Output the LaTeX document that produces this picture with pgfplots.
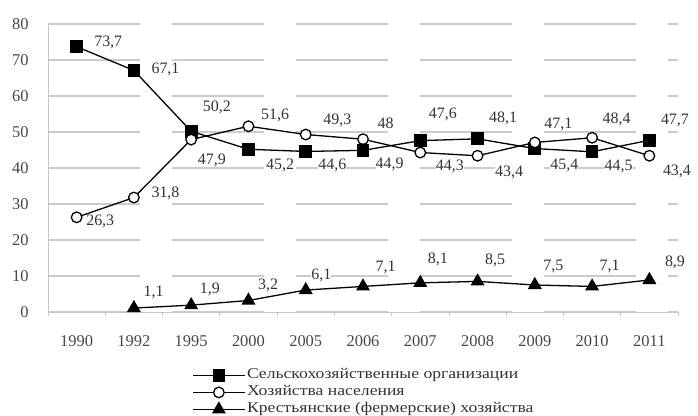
\documentclass[border=0pt]{standalone}
\usepackage{fontspec}
\setmainfont{Liberation Serif}
\newfontfamily\legfont{Liberation Serif}[FakeStretch=1.18]
\usepackage{pgfplots}
\usepackage{pgfplotstable}
\pgfplotsset{compat=1.18}

% x = index of the year, lab = printed value, lx/ly = label offset (bp)
\pgfplotstableread{
x y lab lx ly
0 73.7 73,7 17 4
1 67.1 67,1 17 1
2 50.2 50,2 11 24
3 45.2 45,2 17 -16
4 44.6 44,6 12 -14
5 44.9 44,9 12 -14
6 47.6 47,6 8 26
7 48.1 48,1 11 20
8 45.4 45,4 15 -17
9 44.5 44,5 12 -15
10 47.7 47,7 11 20
}\orgs

\pgfplotstableread{
x y lab lx ly
0 26.3 26,3 9 -4
1 31.8 31,8 17 4
2 47.9 47,9 6 -21
3 51.6 51,6 12 11
4 49.3 49,3 17 14
5 48 48 14 16
6 44.3 44,3 15 -14
7 43.4 43,4 17 -17
8 47.1 47,1 9 18
9 48.4 48,4 10 18
10 43.4 43,4 13 -16
}\hh

\pgfplotstableread{
x y lab lx ly
1 1.1 1,1 9 16
2 1.9 1,9 8 16
3 3.2 3,2 9 15
4 6.1 6,1 5 15
5 7.1 7,1 12 19
6 8.1 8,1 7 23
7 8.5 8,5 7 21
8 7.5 7,5 8 18
9 7.1 7,1 7 20
10 8.9 8,9 15 18
}\farm

\pgfplotsset{
  lbl/.style={
    nodes near coords, point meta=explicit symbolic,
    visualization depends on={\thisrow{lx} \as \lx},
    visualization depends on={\thisrow{ly} \as \ly},
    every node near coord/.append style={anchor=west, inner sep=0pt,
      xshift=\lx bp, yshift=\ly bp, fill=white,
      font=\fontsize{16}{16}\selectfont, text=black!80},
  },
}

\begin{document}
\begin{tikzpicture}
\useasboundingbox (0,0) rectangle (698bp,416bp);
\begin{axis}[
  at={(48bp,104bp)}, anchor=south west,
  scale only axis, width=630bp, height=288bp,
  xmin=-0.5, xmax=10.5, ymin=0, ymax=80,
  axis x line*=bottom, axis y line*=left,
  axis line style={draw=gray!45, line width=0.7pt, -},
  xtick={0,1,2,3,4,5,6,7,8,9,10},
  xticklabels={1990,1992,1995,2000,2005,2006,2007,2008,2009,2010,2011},
  minor xtick={-0.5,0.5,1.5,2.5,3.5,4.5,5.5,6.5,7.5,8.5,9.5,10.5},
  ytick={0,10,...,80},
  major tick style={draw=none},
  minor tick length=4bp,
  tick align=outside,
  minor tick style={draw=gray!45, line width=0.7pt},
  ymajorgrids=true,
  major grid style={draw=black!20, line width=1.1pt, dash pattern=on 92bp off 32bp},
  tick label style={font=\fontsize{16.5}{16.5}\selectfont, text=black!72, inner sep=0pt},
  /pgf/number format/assume math mode=true,
  yticklabel shift=15bp,
  xticklabel shift=19bp,
  clip=false,
  legend style={at={(axis description cs:0.2286,-0.19)}, anchor=north west,
    draw=none, fill=none, inner sep=0pt, row sep=0pt,
    font=\legfont\fontsize{15}{17}\selectfont, text=black!80,
    nodes={inner sep=1.5bp, text height=10.5bp, text depth=3.5bp}},
  legend cell align=left,
  legend image code/.code={
    \draw[mark repeat=2, mark phase=2, #1]
      plot coordinates {(0bp,0bp) (26bp,0bp) (52bp,0bp)};},
]
\addplot[black, line width=1.3pt, mark=square*, mark size=5.7bp,
  mark options={solid, fill=black}, lbl]
  table[x=x, y=y, meta=lab] {\orgs};
\addlegendentry{Сельскохозяйственные организации}

\addplot[black, line width=1.3pt, mark=*, mark size=5.3bp,
  mark options={solid, fill=white, draw=black, line width=1.3pt}, lbl]
  table[x=x, y=y, meta=lab] {\hh};
\addlegendentry{Хозяйства населения}

\addplot[black, line width=1.3pt, mark=triangle*, mark size=6.8bp,
  mark options={solid, fill=black}, lbl]
  table[x=x, y=y, meta=lab] {\farm};
\addlegendentry{Крестьянские (фермерские) хозяйства}
\end{axis}
\end{tikzpicture}
\end{document}
